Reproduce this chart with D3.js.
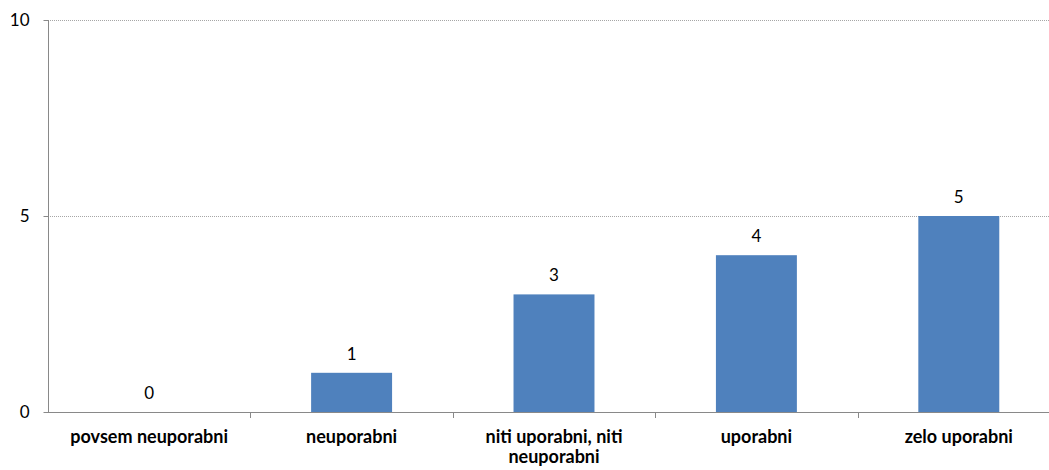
<!DOCTYPE html>
<html>
<head>
<meta charset="utf-8">
<script src="https://cdn.jsdelivr.net/npm/d3@7"></script>
<style>
  html, body { margin: 0; padding: 0; background: #fff; }
  svg { display: block; font-family: Lato, "Open Sans", sans-serif; }
</style>
</head>
<body>
<svg id="chart" width="1049" height="470"></svg>
<script>
// Ratings of usability and their counts
const categories = ["povsem neuporabni", "neuporabni", "niti uporabni, niti neuporabni", "uporabni", "zelo uporabni"];
const counts = [0, 1, 3, 4, 5];
const yTicks = [0, 5, 10];

const svg = d3.select("#chart");
const plotLeft = 48, plotRight = 1060, plotTop = 20, plotBottom = 412;

const x = d3.scaleBand().domain(categories).range([plotLeft, plotRight]).paddingInner(0).paddingOuter(0);
const y = d3.scaleLinear().domain([0, 10]).range([plotBottom, plotTop]);
const barW = x.bandwidth() * 0.4;

// dotted gridlines
svg.append("g").selectAll("line").data(yTicks.filter(d => d > 0)).join("line")
  .attr("x1", plotLeft).attr("x2", plotRight)
  .attr("y1", d => y(d) + 0.5).attr("y2", d => y(d) + 0.5)
  .attr("stroke", "#a6a6a6").attr("stroke-width", 1).attr("stroke-dasharray", "1,1");

// bars
svg.append("g").selectAll("rect").data(counts).join("rect")
  .attr("x", (d, i) => x(categories[i]) + (x.bandwidth() - barW) / 2)
  .attr("y", d => y(d))
  .attr("width", barW)
  .attr("height", d => y(0) - y(d))
  .attr("fill", "#4f81bd");

// value labels
svg.append("g").selectAll("text").data(counts).join("text")
  .attr("x", (d, i) => x(categories[i]) + x.bandwidth() / 2)
  .attr("y", d => y(d) - 13)
  .attr("text-anchor", "middle")
  .attr("font-size", 17).attr("fill", "#000")
  .text(d => d);

// y axis
const yAxis = d3.axisLeft(y).tickValues(yTicks).tickSize(5).tickPadding(14).tickFormat(d3.format("d"));
const gy = svg.append("g").attr("transform", `translate(${plotLeft + 0.5},0)`).call(yAxis);
gy.select(".domain").attr("stroke", "#898989").attr("d", `M0,${plotTop}V${plotBottom + 0.5}`);
gy.selectAll(".tick line").attr("stroke", "#898989");
gy.selectAll(".tick text").attr("font-size", 17).attr("fill", "#000").attr("font-family", "Lato, sans-serif");

// x axis baseline and category separators
const gx = svg.append("g");
gx.append("line").attr("x1", plotLeft).attr("x2", plotRight)
  .attr("y1", plotBottom + 0.5).attr("y2", plotBottom + 0.5).attr("stroke", "#898989");
gx.selectAll("line.sep").data(categories.slice(1)).join("line").attr("class", "sep")
  .attr("x1", d => Math.round(x(d)) + 0.5).attr("x2", d => Math.round(x(d)) + 0.5)
  .attr("y1", plotBottom).attr("y2", plotBottom + 6).attr("stroke", "#898989");

// category labels, wrapped where needed
const labelLines = {
  "niti uporabni, niti neuporabni": ["niti uporabni, niti", "neuporabni"]
};
gx.selectAll("text.cat").data(categories).join("text").attr("class", "cat")
  .attr("x", d => x(d) + x.bandwidth() / 2)
  .attr("y", 443)
  .attr("text-anchor", "middle")
  .attr("font-size", 18).attr("font-weight", "bold").attr("fill", "#000")
  .each(function(d) {
    const lines = labelLines[d] || [d];
    d3.select(this).selectAll("tspan").data(lines).join("tspan")
      .attr("x", x(d) + x.bandwidth() / 2)
      .attr("dy", (l, i) => i === 0 ? 0 : 20)
      .text(l => l);
  });
</script>
</body>
</html>
